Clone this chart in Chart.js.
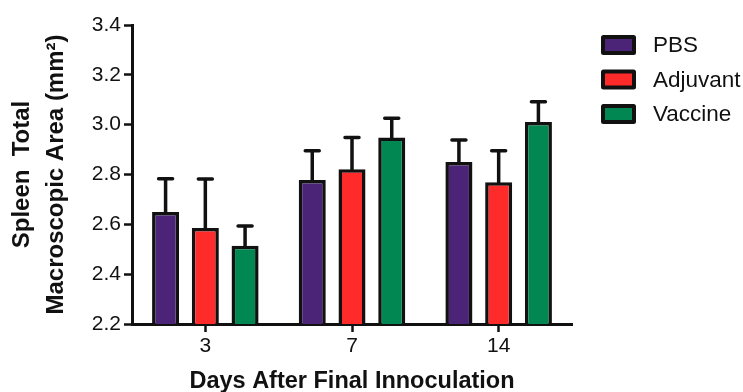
<!DOCTYPE html>
<html><head><meta charset="utf-8">
<script src="https://cdn.jsdelivr.net/npm/chart.js@4.4.0/dist/chart.umd.min.js"></script>
<style>html,body{margin:0;padding:0;background:#fff;overflow:hidden}</style>
</head><body>
<canvas id="c" width="743" height="392"></canvas>
<script>
const categories = ['3', '7', '14'];
const seriesNames = ['PBS', 'Adjuvant', 'Vaccine'];
const pbsMean = [2.650, 2.778, 2.850];
const pbsErr  = [0.133, 0.117, 0.088];
const adjMean = [2.585, 2.821, 2.769];
const adjErr  = [0.197, 0.127, 0.126];
const vacMean = [2.514, 2.948, 3.011];
const vacErr  = [0.079, 0.078, 0.081];
const yMin = 2.2, yMax = 3.4, yStep = 0.2;
const xTitle = 'Days After Final Innoculation';
const yTitle = ['Spleen  Total', 'Macroscopic Area (mm\u00B2)'];

const FONT = "'Liberation Sans', Arial, Helvetica, sans-serif";
const INK = '#111111';
const colors = ['#4b2477', '#ff2b2b', '#008752'];
const means = [pbsMean, adjMean, vacMean];
const errs = [pbsErr, adjErr, vacErr];

const errorBars = {
  id: 'errorBars',
  afterDatasetsDraw(chart) {
    const ctx = chart.ctx, ys = chart.scales.y;
    ctx.save();
    ctx.strokeStyle = INK; ctx.lineWidth = 3.5; ctx.lineCap = 'round';
    chart.data.datasets.forEach((ds, i) => {
      const meta = chart.getDatasetMeta(i);
      meta.data.forEach((bar, j) => {
        const top = ys.getPixelForValue(ds.data[j] + ds.errors[j]);
        const x = bar.x;
        ctx.beginPath();
        ctx.moveTo(x, bar.y); ctx.lineTo(x, top);
        ctx.moveTo(x - 7, top); ctx.lineTo(x + 7, top);
        ctx.stroke();
      });
    });
    ctx.restore();
  }
};

const sideLegend = {
  id: 'sideLegend',
  afterDraw(chart) {
    const ctx = chart.ctx;
    const x0 = chart.chartArea.right + 29;
    ctx.save();
    chart.data.datasets.forEach((ds, i) => {
      const cy = chart.chartArea.top + 20 + i * 34.5;
      ctx.fillStyle = INK;
      ctx.beginPath(); ctx.roundRect(x0, cy - 10, 35, 20, 2.5); ctx.fill();
      ctx.fillStyle = ds.backgroundColor;
      ctx.fillRect(x0 + 4, cy - 6, 27, 12);
      ctx.fillStyle = INK;
      ctx.font = '22.5px ' + FONT;
      ctx.textBaseline = 'middle';
      ctx.textAlign = 'left';
      ctx.fillText(ds.label, x0 + 52, cy + 1);
    });
    ctx.restore();
  }
};

new Chart(document.getElementById('c'), {
  type: 'bar',
  data: {
    labels: categories,
    datasets: seriesNames.map((name, i) => ({
      label: name,
      data: means[i],
      errors: errs[i],
      backgroundColor: colors[i],
      borderColor: INK,
      borderWidth: 3.5,
      borderSkipped: 'start',
      categoryPercentage: 0.813,
      barPercentage: 0.68
    }))
  },
  options: {
    responsive: false,
    animation: false,
    layout: { padding: { top: 25, right: 171, bottom: 0, left: 0 } },
    plugins: { legend: { display: false }, tooltip: { enabled: false } },
    scales: {
      x: {
        z: 1,
        afterFit: s => { s.height = 68; },
        border: { display: true, color: INK, width: 3 },
        grid: { display: true, offset: false, drawOnChartArea: false, drawTicks: true, tickLength: 8, tickWidth: 2.5, tickColor: INK },
        ticks: { padding: 2, color: INK, font: { size: 21, family: FONT } },
        title: { display: true, text: xTitle, color: INK, font: { size: 23.5, weight: 'bold', family: FONT, lineHeight: 0.85 }, padding: { top: 0, bottom: 0 } }
      },
      y: {
        min: yMin, max: yMax,
        afterFit: s => { s.width = 132; },
        border: { display: true, color: INK, width: 3 },
        grid: { display: true, drawOnChartArea: false, drawTicks: true, tickLength: 8, tickWidth: 2.5, tickColor: INK },
        ticks: { stepSize: yStep, padding: 3, color: INK, font: { size: 21, family: FONT }, callback: v => Number(v).toFixed(1) },
        title: { display: true, text: yTitle, color: INK, font: { size: 24, weight: 'bold', family: FONT, lineHeight: 1.417 }, padding: { top: 5, bottom: 0 } }
      }
    }
  },
  plugins: [errorBars, sideLegend]
});
</script>
</body></html>
